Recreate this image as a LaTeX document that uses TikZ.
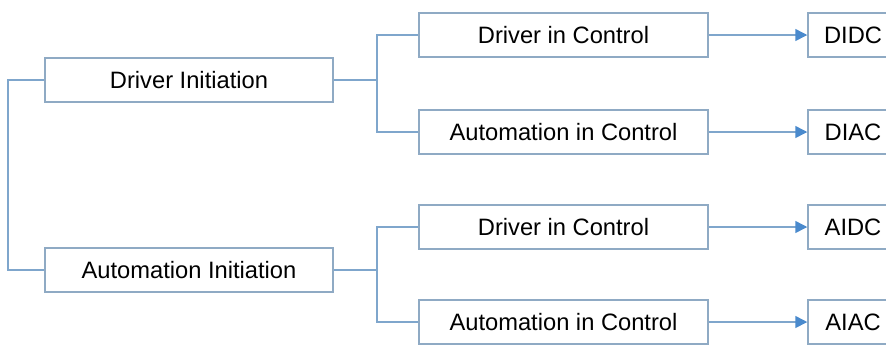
\documentclass[tikz,border=0pt]{standalone}
\usepackage{fontspec}
\setmainfont{Liberation Sans}
\usetikzlibrary{arrows.meta}
\definecolor{boxline}{HTML}{8FAAC4}
\definecolor{linkline}{HTML}{7FA6CC}
\definecolor{tipblue}{HTML}{4A8ACD}

\begin{document}
\begin{tikzpicture}[x=0.5pt, y=-0.5pt,
    stage/.style = {draw=boxline, line width=0.75pt, fill=white, inner sep=0pt,
        minimum height=22pt, font=\fontsize{11.85}{14}\selectfont},
    initbox/.style = {stage, minimum width=144pt},
    ctrlbox/.style = {stage, minimum width=144.5pt},
    codebox/.style = {stage, minimum width=45pt},
    link/.style = {draw=linkline, line width=0.75pt},
    flow/.style = {link, -{Triangle[length=6pt, width=6pt, color=tipblue, fill=tipblue]}}]
    \useasboundingbox (0,0) rectangle (886,344);
    \node[initbox] (DI) at (189,80) {Driver Initiation};
    \node[initbox] (AI) at (189,270) {Automation Initiation};
    \node[ctrlbox] (DIDCbox) at (563.5,35) {Driver in Control};
    \node[ctrlbox] (DIACbox) at (563.5,132) {Automation in Control};
    \node[ctrlbox] (AIDCbox) at (563.5,227) {Driver in Control};
    \node[ctrlbox] (AIACbox) at (563.5,322) {Automation in Control};
    \node[codebox] (DIDC) at (853,35) {DIDC};
    \node[codebox] (DIAC) at (853,132) {DIAC};
    \node[codebox] (AIDC) at (853,227) {AIDC};
    \node[codebox] (AIAC) at (853,322) {AIAC};
    \coordinate (root) at (8,175);
    \coordinate (forkD) at (377,80);
    \coordinate (forkA) at (377,270);
    \draw[link] (DI.west) -| (root) |- (AI.west);
    \draw[link] (DI.east) -- (forkD) |- (DIDCbox.west);
    \draw[link] (forkD) |- (DIACbox.west);
    \draw[link] (AI.east) -- (forkA) |- (AIDCbox.west);
    \draw[link] (forkA) |- (AIACbox.west);
    \draw[flow] (DIDCbox) -- (DIDC);
    \draw[flow] (DIACbox) -- (DIAC);
    \draw[flow] (AIDCbox) -- (AIDC);
    \draw[flow] (AIACbox) -- (AIAC);
\end{tikzpicture}
\end{document}
